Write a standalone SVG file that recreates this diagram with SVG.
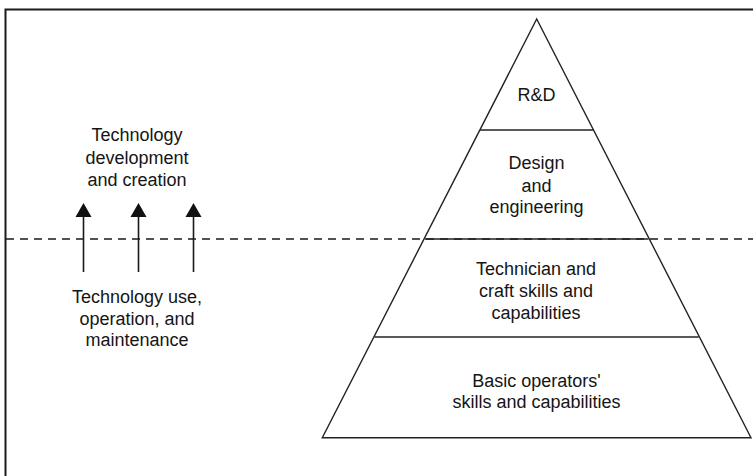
<svg xmlns="http://www.w3.org/2000/svg" width="753" height="476" viewBox="0 0 753 476">
<defs>
<style>
.t{font-family:"Liberation Sans",Arial,Helvetica,sans-serif;font-size:18px;fill:#151515;text-anchor:middle}
.ln{stroke:#222;stroke-width:1.4;fill:none}
.ar{stroke:#1a1a1a;stroke-width:1.6;fill:none}
.hd{fill:#111}
</style>
</defs>
<rect width="753" height="476" fill="#fff"/>
<path d="M5.5,476 V9.5 H753" stroke="#1a1a1a" stroke-width="2" fill="none"/>
<g id="connectors">
<line x1="6" y1="239" x2="753" y2="239" stroke="#1a1a1a" stroke-width="1.5" stroke-dasharray="8,6"/>
<g id="arrow1"><line class="ar" x1="83.5" y1="272" x2="83.5" y2="215"/><polygon class="hd" points="83.5,203 75.5,217 91.5,217"/></g>
<g id="arrow2"><line class="ar" x1="138.5" y1="272" x2="138.5" y2="215"/><polygon class="hd" points="138.5,203 130.5,217 146.5,217"/></g>
<g id="arrow3"><line class="ar" x1="193.5" y1="272" x2="193.5" y2="215"/><polygon class="hd" points="193.5,203 185.5,217 201.5,217"/></g>
</g>
<g id="label-top">
<text class="t" x="137" y="141">Technology</text>
<text class="t" x="137" y="163.5">development</text>
<text class="t" x="137" y="185.5">and creation</text>
</g>
<g id="label-bottom">
<text class="t" x="137" y="302.5">Technology use,</text>
<text class="t" x="137" y="324.5">operation, and</text>
<text class="t" x="137" y="346">maintenance</text>
</g>
<g id="pyramid">
<polygon class="ln" points="536.7,19 751,437.7 322.3,437.7"/>
</g>
<g id="level-rd">
<line class="ln" x1="480" y1="130" x2="593.5" y2="130"/>
<text class="t" x="536.5" y="100.5">R&amp;D</text>
</g>
<g id="level-design">
<line class="ln" x1="425" y1="239" x2="648.5" y2="239"/>
<text class="t" x="536.5" y="169">Design</text>
<text class="t" x="536.5" y="191.5">and</text>
<text class="t" x="536.5" y="213">engineering</text>
</g>
<g id="level-technician">
<line class="ln" x1="374.5" y1="337" x2="698.7" y2="337"/>
<text class="t" x="536" y="275">Technician and</text>
<text class="t" x="536" y="297">craft skills and</text>
<text class="t" x="536" y="318.5">capabilities</text>
</g>
<g id="level-basic">
<text class="t" x="536.5" y="387">Basic operators'</text>
<text class="t" x="536.5" y="407.5">skills and capabilities</text>
</g>
</svg>
